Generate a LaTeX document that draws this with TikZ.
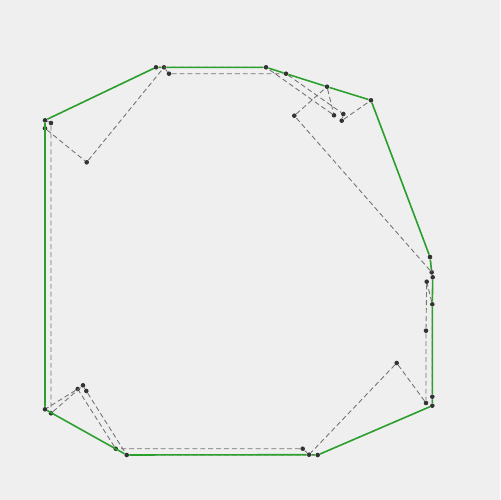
\documentclass[tikz,border=0pt]{standalone}
\usepackage{xcolor}
\usepackage{tikz}
\definecolor{hullgreen}{HTML}{2CA02C}
\definecolor{panel}{HTML}{EFEFEF}

\begin{document}
\begin{tikzpicture}[x=0.02cm,y=-0.02cm,
dot/.style={circle,fill=black!80,inner sep=0pt,minimum size=2.6pt},
tour/.style={draw=black!55,line width=.5pt,dash pattern=on 2.8pt off 1.7pt},
hull/.style={draw=hullgreen,line width=.9pt}]
\fill[panel] (0,0) rectangle (500,500);
% top edge
\node[dot] (A) at (156,67.3) {};
\node[dot] (B) at (164,67.3) {};
\node[dot] (C) at (169,73.7) {};
\node[dot] (D) at (266,67.3) {};
\node[dot] (E) at (286,73.7) {};
\node[dot] (F) at (327,86.7) {};
\node[dot] (G) at (371,100.3) {};
\node[dot] (H) at (294.3,115.7) {};
\node[dot] (I) at (334,115.3) {};
\node[dot] (J) at (343.3,114) {};
\node[dot] (K) at (341.7,120.7) {};
% right edge
\node[dot] (L) at (430,257) {};
\node[dot] (M) at (431.7,272.3) {};
\node[dot] (N) at (432.7,277.3) {};
\node[dot] (O) at (426.7,281.7) {};
\node[dot] (P) at (432.3,304.3) {};
\node[dot] (Q) at (426,330.7) {};
\node[dot] (R) at (432.3,396.7) {};
\node[dot] (S) at (426,403) {};
\node[dot] (T) at (432.3,405.7) {};
\node[dot] (U) at (396.7,363) {};
% bottom edge
\node[dot] (V) at (317.7,455) {};
\node[dot] (W) at (309,454.7) {};
\node[dot] (X) at (302.7,448.7) {};
\node[dot] (Y) at (126.7,455) {};
\node[dot] (Z) at (115.7,448.7) {};
\node[dot] (a) at (86.3,391) {};
\node[dot] (b) at (83,385.3) {};
\node[dot] (c) at (77.7,389) {};
% left edge
\node[dot] (d) at (51,413.3) {};
\node[dot] (e) at (45,409.3) {};
\node[dot] (f) at (51,123) {};
\node[dot] (g) at (45,120.3) {};
\node[dot] (h) at (45,128.3) {};
\node[dot] (i) at (86.7,162.3) {};
\draw[tour] (B)--(C)--(E)--(J)--(K)--(G)--(L)--(N)--(M)--(H)--(F)--(I)--(D)--(A)--(g)--(f)--(d)--(b)--(a)--(Y)--(V)--(T)--(R)--(P)--(O)--(Q)--(S)--(U)--(W)--(X)--(Z)--(c)--(e)--(h)--(i)--(B);
\draw[hull] (g)--(A)--(B)--(D)--(E)--(F)--(G)--(L)--(M)--(N)--(P)--(R)--(T)--(V)--(W)--(Y)--(e)--(g);
\end{tikzpicture}
\end{document}
